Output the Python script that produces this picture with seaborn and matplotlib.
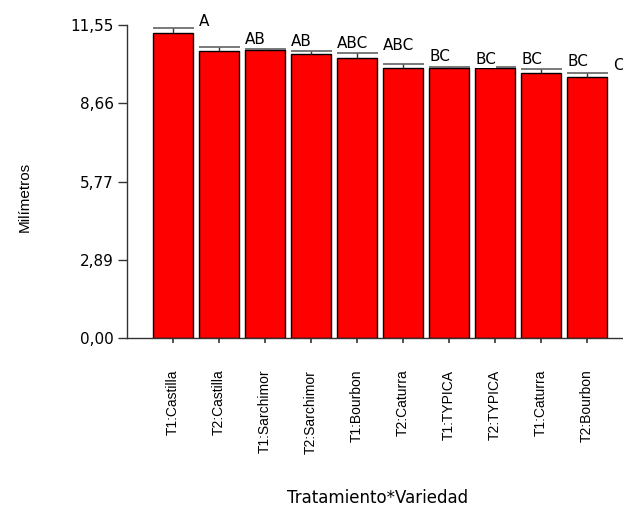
import matplotlib
matplotlib.use("Agg")
import matplotlib.pyplot as plt
import seaborn as sns
import pandas as pd

categories = ["T1:Castilla", "T2:Castilla", "T1:Sarchimor", "T2:Sarchimor", "T1:Bourbon",
              "T2:Caturra", "T1:TYPICA", "T2:TYPICA", "T1:Caturra", "T2:Bourbon"]
means = [11.27, 10.60, 10.62, 10.49, 10.34, 9.95, 9.96, 9.96, 9.77, 9.64]
errors = [0.16, 0.14, 0.04, 0.11, 0.17, 0.16, 0.04, 0.04, 0.15, 0.14]
letters = ["A", "AB", "AB", "ABC", "ABC", "BC", "BC", "BC", "BC", "C"]
yticks = [0.00, 2.89, 5.77, 8.66, 11.55]
ytick_labels = ["0,00", "2,89", "5,77", "8,66", "11,55"]

sns.set_style("ticks")
plt.rcParams["font.family"] = ["DejaVu Sans"]
plt.rcParams["text.color"] = "black"
plt.rcParams["axes.labelcolor"] = "black"
plt.rcParams["xtick.color"] = "black"
plt.rcParams["ytick.color"] = "black"

df = pd.DataFrame({"cat": categories, "val": means})

fig = plt.figure(figsize=(6.23, 5.07), dpi=100)
ax = fig.add_axes([0.2039, 0.3333, 0.8113, 0.6174])

sns.barplot(data=df, x="cat", y="val", order=categories, color="#ff0000",
            saturation=1, edgecolor="black", linewidth=1.0, width=0.87, ax=ax)

hw = 0.435
for i, (m, e) in enumerate(zip(means, errors)):
    ax.vlines(i, m, m + e, color="#333333", lw=1.0, zorder=3)
    ax.hlines(m + e, i - hw, i + hw + 0.02, color="#555555", lw=1.1, zorder=3)

for i, (m, e, t) in enumerate(zip(means, errors, letters)):
    ax.text(i + 0.57, m + e + 0.1, t, ha="left", va="baseline", fontsize=11,
            color="black", zorder=5,
            bbox=dict(facecolor="white", edgecolor="none", pad=0.3))

ax.set_xlim(-0.99, 9.99)
ax.set_ylim(0, 11.55)
ax.set_yticks(yticks)
ax.set_yticklabels(ytick_labels, fontsize=11)
ax.set_xticks(range(len(categories)))
ax.set_xticklabels(categories, rotation=90, fontsize=10, family="Liberation Sans",
                   va="top", ha="center")

ax.tick_params(axis="y", length=6.5, width=1, color="#333333", pad=3)
ax.tick_params(axis="x", length=3.8, width=1.2, color="#333333", pad=19)

for s in ["top", "right"]:
    ax.spines[s].set_visible(False)
for s in ["left", "bottom"]:
    ax.spines[s].set_color("#333333")
    ax.spines[s].set_linewidth(1.0)

ax.set_ylabel("Milímetros", fontsize=11, family="Liberation Sans", va="center")
ax.yaxis.set_label_coords(-0.2024, 0.451)
ax.set_xlabel("Tratamiento*Variedad", fontsize=12, va="center")
ax.xaxis.set_label_coords(0.4947, -0.511)

fig.savefig("out.png", dpi=100)
